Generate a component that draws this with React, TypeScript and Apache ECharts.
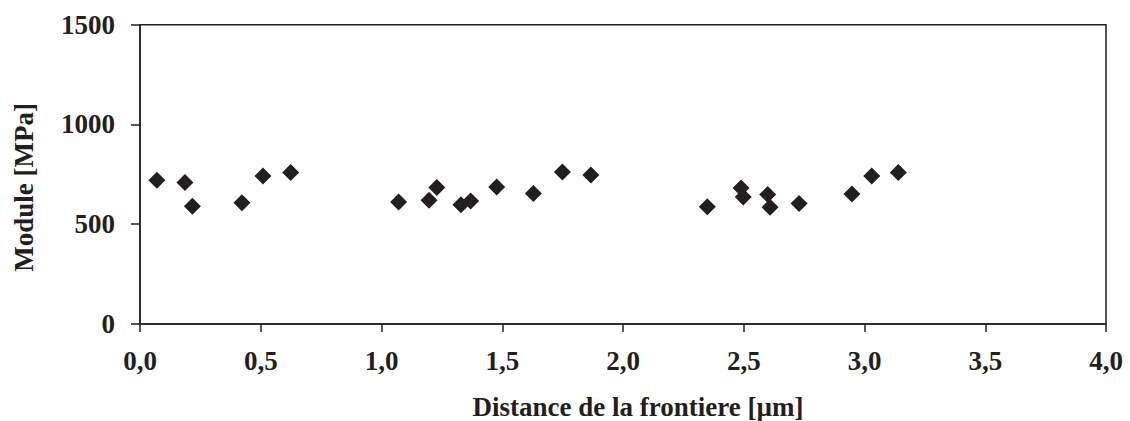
import React, { useEffect, useRef } from "react";
import * as echarts from "echarts";

const distance = [0.07, 0.186, 0.217, 0.422, 0.509, 0.624, 1.071, 1.197, 1.229, 1.329, 1.369, 1.477, 1.629, 1.749, 1.867, 2.349, 2.489, 2.498, 2.599, 2.609, 2.729, 2.948, 3.03, 3.14];
const modulus = [720, 709, 590, 608, 742, 759, 612, 620, 684, 598, 617, 687, 654, 762, 747, 587, 682, 637, 649, 585, 604, 652, 742, 759];

const xTitle = "Distance de la frontiere [µm]";
const yTitle = "Module [MPa]";

const FONT = "'Liberation Serif', 'Times New Roman', serif";
const INK = "#231f20";

export default function App() {
  const ref = useRef<HTMLDivElement>(null);
  useEffect(() => {
    if (!ref.current) return;
    const chart = echarts.init(ref.current, undefined, { renderer: "svg" });
    chart.setOption({
      animation: false,
      backgroundColor: "#ffffff",
      grid: {
        left: 140,
        top: 24.7,
        right: 24,
        bottom: 97,
        containLabel: false,
        outerBoundsMode: "none",
        show: true,
        borderColor: INK,
        borderWidth: 1.5,
        backgroundColor: "transparent",
      },
      xAxis: {
        type: "value",
        min: 0,
        max: 4,
        interval: 0.5,
        name: xTitle,
        nameLocation: "middle",
        nameGap: 69,
        nameTextStyle: { fontFamily: FONT, fontWeight: "bold", fontSize: 27, color: INK, padding: [0, 0, 0, 30] },
        axisLine: { show: true, onZero: false, lineStyle: { color: INK, width: 1.5 } },
        axisTick: { show: true, inside: false, length: 8, lineStyle: { color: INK, width: 1.5 } },
        axisLabel: {
          margin: 23,
          fontFamily: FONT,
          fontWeight: "bold",
          fontSize: 27,
          color: INK,
          formatter: (v: number) => v.toFixed(1).replace(".", ","),
        },
        splitLine: { show: false },
      },
      yAxis: {
        type: "value",
        min: 0,
        max: 1500,
        interval: 500,
        name: yTitle,
        nameLocation: "middle",
        nameGap: 103,
        nameRotate: 90,
        nameTextStyle: { fontFamily: FONT, fontWeight: "bold", fontSize: 27, color: INK, padding: [0, 26, 0, 0] },
        axisLine: { show: true, onZero: false, lineStyle: { color: INK, width: 1.5 } },
        axisTick: { show: true, inside: false, length: 9, lineStyle: { color: INK, width: 1.5 } },
        axisLabel: {
          margin: 25,
          fontFamily: FONT,
          fontWeight: "bold",
          fontSize: 27,
          color: INK,
          formatter: (v: number) => String(v),
        },
        splitLine: { show: false },
      },
      series: [
        {
          type: "scatter",
          symbol: "diamond",
          symbolSize: 17,
          itemStyle: { color: INK, opacity: 1 },
          data: distance.map((d, i) => [d, modulus[i]]),
        },
      ],
    });
    return () => chart.dispose();
  }, []);
  return <div ref={ref} style={{ position: "absolute", left: 0, top: 0, width: 1130, height: 421 }} />;
}
